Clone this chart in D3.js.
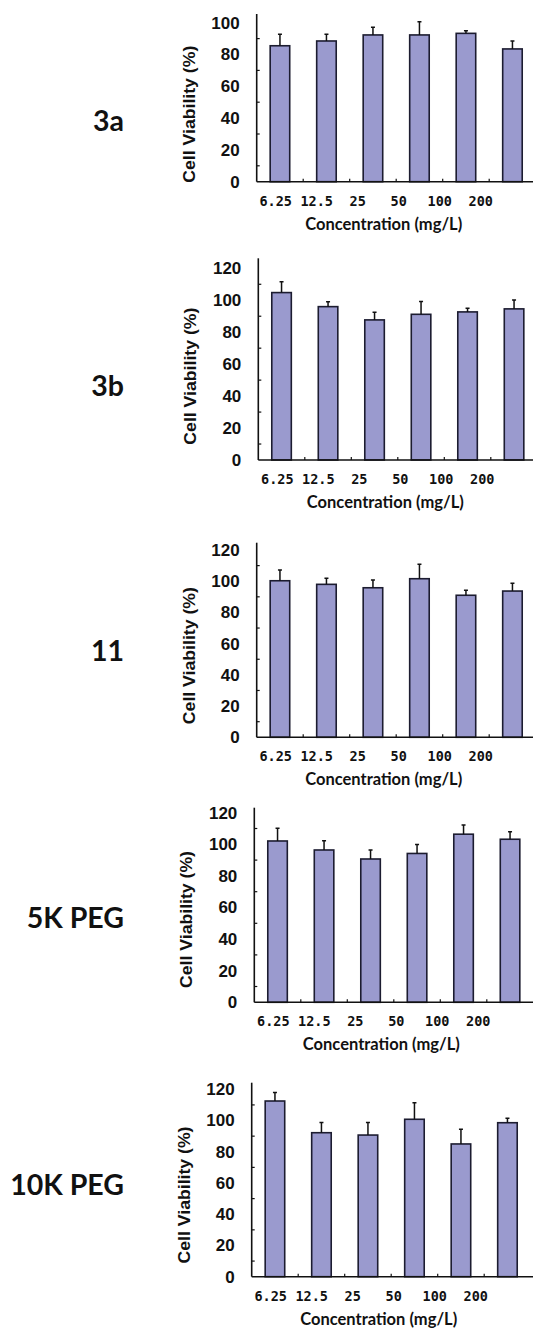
<!DOCTYPE html>
<html>
<head>
<meta charset="utf-8">
<script src="https://cdn.jsdelivr.net/npm/d3@7"></script>
<style>
  body { margin: 0; background: #fff; }
  .ytick text { font-family: "Liberation Sans Narrow", "Arial Narrow", "Liberation Sans", Arial, sans-serif; font-weight: bold; font-size: 17px; fill: #111; }
  .xtick { font-family: "DejaVu Sans Mono", monospace; font-weight: bold; font-size: 13.5px; fill: #111; }
  .ytitle { font-family: "Liberation Sans", Arial, sans-serif; font-weight: bold; font-size: 17px; fill: #111; }
  .xtitle { font-family: Lato, "Open Sans", sans-serif; font-weight: bold; font-size: 16.5px; fill: #111; }
  .ptitle { font-family: Lato, "Open Sans", sans-serif; font-weight: bold; font-size: 28.5px; fill: #111; }
</style>
</head>
<body>
<svg id="chart" width="533" height="1328"></svg>
<script>
// data
var categories = ["6.25", "12.5", "25", "50", "100", "200"];
var panelNames = ["3a", "3b", "11", "5K PEG", "10K PEG"];
var yMaxes = [100, 120, 120, 120, 120];

var viability3a = [85.5, 88.5, 92.3, 92.3, 93.3, 83.5];
var error3a = [7.2, 4.2, 4.8, 8.3, 1.7, 5.0];
var viability3b = [104.8, 96.0, 87.7, 91.2, 92.7, 94.6];
var error3b = [6.8, 3.1, 4.8, 8.0, 2.3, 5.6];
var viability11 = [100.3, 98.0, 95.8, 101.6, 91.0, 93.7];
var error11 = [6.9, 3.9, 5.0, 9.2, 3.2, 5.0];
var viability5k = [102.1, 96.4, 90.7, 94.2, 106.4, 103.2];
var error5k = [8.0, 5.9, 5.7, 5.7, 5.8, 4.8];
var viability10k = [112.5, 92.2, 90.7, 100.8, 85.0, 98.6];
var error10k = [5.5, 6.6, 8.1, 10.6, 9.4, 2.8];

var values = [viability3a, viability3b, viability11, viability5k, viability10k];
var errors = [error3a, error3b, error11, error5k, error10k];

// layout of each panel
var axisXs = [256.7, 258.3, 256.7, 254.3, 251.7];
var baseYs = [181.7, 460, 737.3, 1002.3, 1276.7];
var topYs = [22.7, 268.3, 550, 812.7, 1089.3];
var axisTops = [14, 258.3, 542.7, 807.7, 1082.7];
var titleYs = [121, 386, 651, 918, 1185];

var svg = d3.select("#chart");
var ink = "#111";

panelNames.forEach(function (name, i) {
  var ax = axisXs[i];

  var x = d3.scaleBand()
    .domain(categories)
    .range([ax, ax + 6 * 46.5])
    .paddingInner(0.58)
    .paddingOuter(0.29);

  // category labels sit on their own, tighter spacing
  var xl = d3.scalePoint()
    .domain(categories)
    .range([ax + 19, ax + 19 + 5 * 41]);

  var y = d3.scaleLinear()
    .domain([0, yMaxes[i]])
    .range([baseYs[i], topYs[i]]);

  var g = svg.append("g");

  var data = categories.map(function (c, j) {
    return { cat: c, v: values[i][j], e: errors[i][j] };
  });

  // bars
  g.selectAll(".bar")
    .data(data)
    .enter().append("rect")
    .attr("class", "bar")
    .attr("x", function (d) { return x(d.cat); })
    .attr("y", function (d) { return y(d.v); })
    .attr("width", x.bandwidth())
    .attr("height", function (d) { return y(0) - y(d.v); })
    .attr("fill", "#9a9ace")
    .attr("stroke", "#1c1c30")
    .attr("stroke-width", 1.6);

  // error bars (upper half only)
  g.selectAll(".err")
    .data(data)
    .enter().append("path")
    .attr("class", "err")
    .attr("d", function (d) {
      var cx = x(d.cat) + x.bandwidth() / 2;
      return "M" + cx + "," + y(d.v) + "V" + y(d.v + d.e) +
        "M" + (cx - 2) + "," + y(d.v + d.e) + "H" + (cx + 2);
    })
    .attr("stroke", ink)
    .attr("stroke-width", 1.5)
    .attr("fill", "none");

  // y axis
  g.append("g")
    .attr("class", "ytick")
    .attr("transform", "translate(" + ax + ",0)")
    .call(d3.axisLeft(y).tickValues(d3.range(0, yMaxes[i] + 1, 20)).tickSize(0).tickPadding(17))
    .call(function (s) { s.select(".domain").remove(); });

  g.append("line")
    .attr("x1", ax).attr("x2", ax)
    .attr("y1", axisTops[i]).attr("y2", baseYs[i])
    .attr("stroke", ink).attr("stroke-width", 1.6);

  // small marks between the labels
  g.selectAll(".ymark")
    .data(d3.range(10, yMaxes[i], 20))
    .enter().append("line")
    .attr("x1", ax).attr("x2", ax + 3)
    .attr("y1", function (d) { return y(d); })
    .attr("y2", function (d) { return y(d); })
    .attr("stroke", ink).attr("stroke-width", 1.2);

  // x axis
  g.append("line")
    .attr("x1", ax).attr("x2", 533)
    .attr("y1", baseYs[i]).attr("y2", baseYs[i])
    .attr("stroke", ink).attr("stroke-width", 1.6);

  g.selectAll(".xmark")
    .data(categories.slice(1))
    .enter().append("line")
    .attr("x1", function (d) { return x(d) - x.step() * 0.29; })
    .attr("x2", function (d) { return x(d) - x.step() * 0.29; })
    .attr("y1", baseYs[i]).attr("y2", baseYs[i] - 3)
    .attr("stroke", ink).attr("stroke-width", 1.2);

  g.selectAll(".xtick")
    .data(categories)
    .enter().append("text")
    .attr("class", "xtick")
    .attr("x", function (d) { return xl(d); })
    .attr("y", baseYs[i] + 24)
    .attr("text-anchor", "middle")
    .text(function (d) { return d; });

  // axis titles
  g.append("text")
    .attr("class", "xtitle")
    .attr("x", ax + 127)
    .attr("y", baseYs[i] + 48)
    .attr("text-anchor", "middle")
    .text("Concentration (mg/L)");

  var midY = (baseYs[i] + topYs[i]) / 2 + 12;
  g.append("text")
    .attr("class", "ytitle")
    .attr("transform", "translate(" + (ax - 62) + "," + midY + ") rotate(-90)")
    .attr("text-anchor", "middle")
    .attr("textLength", 137)
    .attr("lengthAdjust", "spacingAndGlyphs")
    .text("Cell Viability (%)");

  // panel title
  g.append("text")
    .attr("class", "ptitle")
    .attr("x", 124)
    .attr("y", titleYs[i] + 10)
    .attr("text-anchor", "end")
    .text(name);
});
</script>
</body>
</html>
